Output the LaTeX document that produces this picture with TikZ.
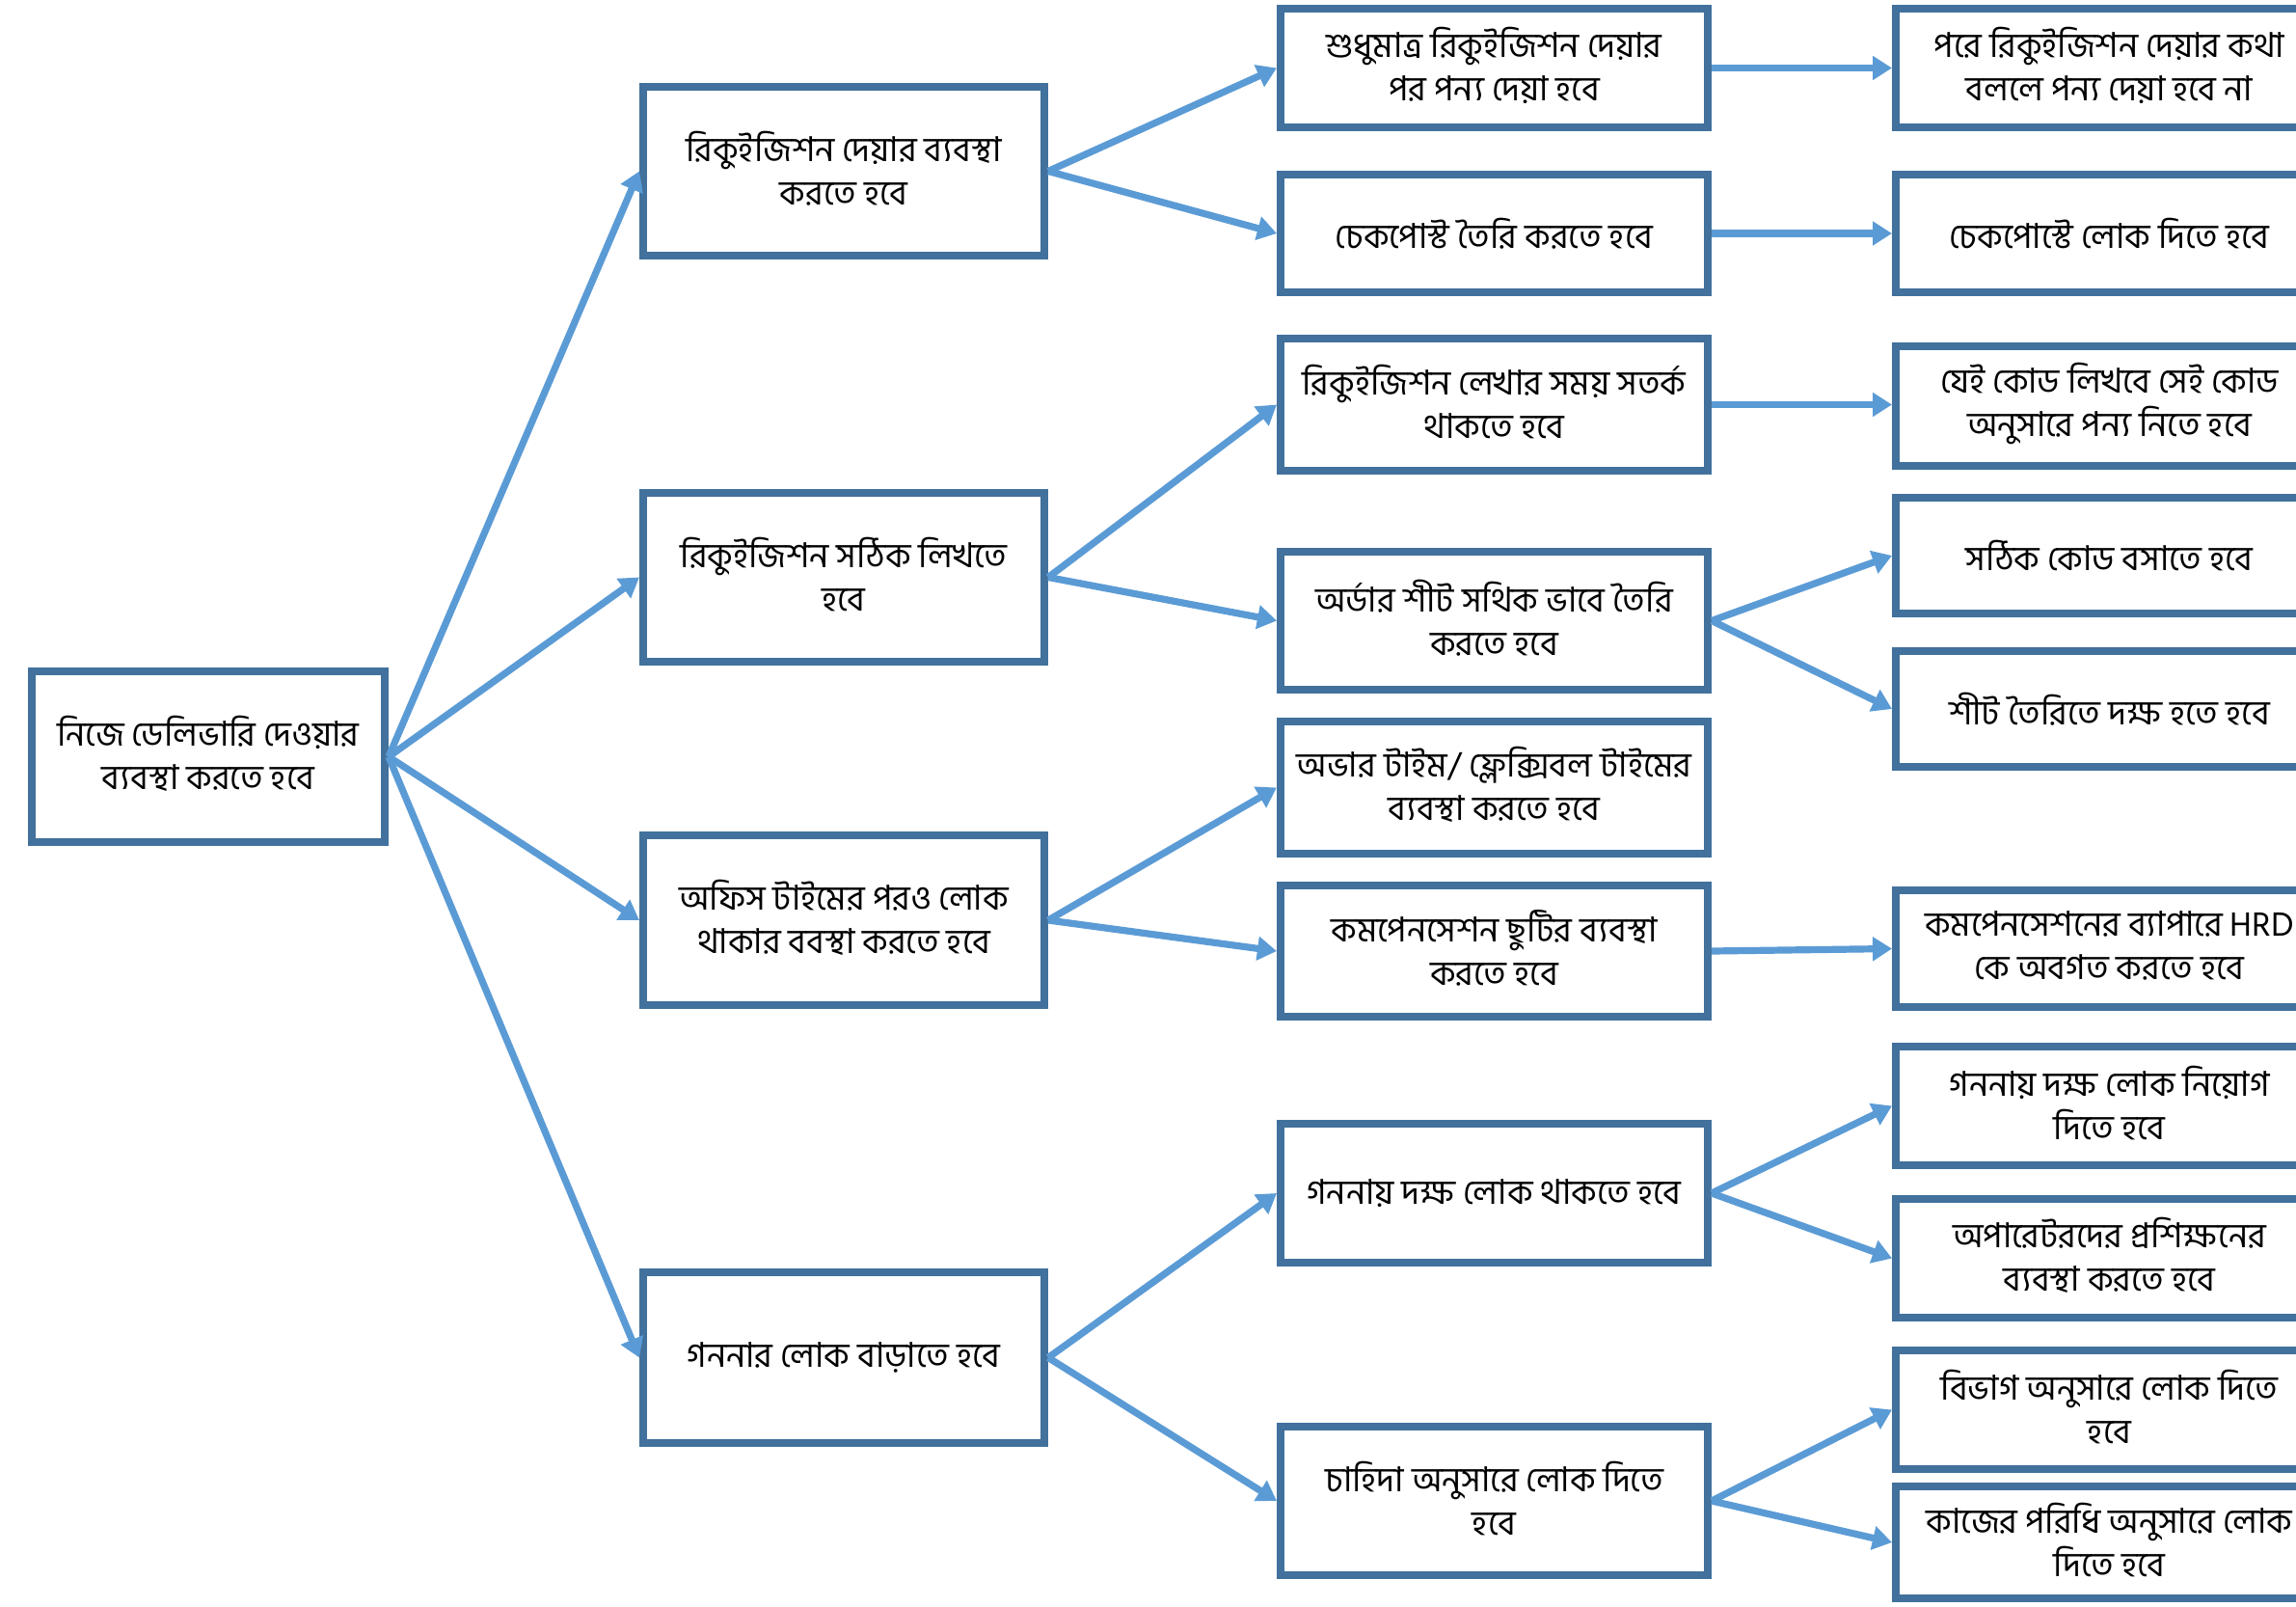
\documentclass[tikz,border=0pt]{standalone}
\usepackage{fontspec}
\newfontfamily\bn[Script=Bengali]{Hind Siliguri}
\usetikzlibrary{arrows.meta}
\definecolor{boxc}{HTML}{41719C}
\definecolor{arrc}{HTML}{5B9BD5}
\newcommand\tw[2]{\vbox{\halign{\hfil##\hfil\cr #1\cr #2\cr}\kern3pt}}
\tikzset{
  box/.style={draw=boxc, line width=4pt, fill=white, align=center, inner sep=0pt,
    font=\bn\fontsize{17.8}{22.5}\selectfont},
  lz/.style={box, minimum width=183pt},
  lone/.style={box, minimum width=208pt},
  ltwo/.style={box, minimum width=221.5pt},
  lthree/.style={box, minimum width=221.5pt},
  arr/.style={draw=arrc, line width=3.6pt, -{Triangle[length=10pt,width=12pt]}}
}
\begin{document}
\begin{tikzpicture}[x=1pt,y=1pt]
\useasboundingbox[fill=white] (0,0) rectangle (1190.5,-832.5);
\clip (0,0) rectangle (1190.5,-832.5);
% root
\node[lz, minimum height=88.5pt] (root) at (108,-392.25) {\tw{নিজে ডেলিভারি দেওয়ার}{ব্যবস্থা করতে হবে}};
% level 1
\node[lone, minimum height=87.5pt] (B1) at (437.5,-88.75) {\tw{রিকুইজিশন দেয়ার ব্যবস্থা}{করতে হবে}};
\node[lone, minimum height=87.5pt] (B2) at (437.5,-299.25) {\tw{রিকুইজিশন সঠিক লিখতে}{হবে}};
\node[lone, minimum height=88pt] (B3) at (437.5,-477) {\tw{অফিস টাইমের পরও লোক}{থাকার ববস্থা করতে হবে}};
\node[lone, minimum height=88.5pt] (B4) at (437.5,-703.75) {গননার লোক বাড়াতে হবে};
% level 2
\node[ltwo, minimum height=61.5pt] (a) at (774.75,-35.25) {\tw{শুধুমাত্র রিকুইজিশন দেয়ার}{পর পন্য দেয়া হবে}};
\node[ltwo, minimum height=61pt] (b) at (774.75,-121) {চেকপোস্ট তৈরি করতে হবে};
\node[ltwo, minimum height=68.5pt] (c) at (774.75,-209.75) {\tw{রিকুইজিশন লেখার সময় সতর্ক}{থাকতে হবে}};
\node[ltwo, minimum height=71.5pt] (d) at (774.75,-321.75) {\tw{অর্ডার শীট সথিক ভাবে তৈরি}{করতে হবে}};
\node[ltwo, minimum height=68.5pt] (e) at (774.75,-408.25) {\tw{অভার টাইম/ ফ্লেক্সিবল টাইমের}{ব্যবস্থা করতে হবে}};
\node[ltwo, minimum height=68pt] (f) at (774.75,-493) {\tw{কমপেনসেশন ছুটির ব্যবস্থা}{করতে হবে}};
\node[ltwo, minimum height=72pt] (g) at (774.75,-618.5) {গননায় দক্ষ লোক থাকতে হবে};
\node[ltwo, minimum height=77pt] (h) at (774.75,-778) {\tw{চাহিদা অনুসারে লোক দিতে}{হবে}};
% level 3
\node[lthree, minimum height=61.5pt] (r1) at (1093.75,-35.25) {\tw{পরে রিকুইজিশন দেয়ার কথা}{বললে পন্য দেয়া হবে না}};
\node[lthree, minimum height=61pt] (r2) at (1093.75,-121) {চেকপোস্টে লোক দিতে হবে};
\node[lthree, minimum height=62pt] (r3) at (1093.75,-210.5) {\tw{যেই কোড লিখবে সেই কোড}{অনুসারে পন্য নিতে হবে}};
\node[lthree, minimum height=60pt] (r4) at (1093.75,-288) {সঠিক কোড বসাতে হবে};
\node[lthree, minimum height=60pt] (r5) at (1093.75,-367.5) {শীট তৈরিতে দক্ষ হতে হবে};
\node[lthree, minimum height=60.5pt] (r6) at (1093.75,-491.75) {\tw{কমপেনসেশনের ব্যাপারে HRD}{কে অবগত করতে হবে}};
\node[lthree, minimum height=61.5pt] (r7) at (1093.75,-573.25) {\tw{গননায় দক্ষ লোক নিয়োগ}{দিতে হবে}};
\node[lthree, minimum height=61.5pt] (r8) at (1093.75,-652.25) {\tw{অপারেটরদের প্রশিক্ষনের}{ব্যবস্থা করতে হবে}};
\node[lthree, minimum height=61.5pt] (r9) at (1093.75,-730.75) {\tw{বিভাগ অনুসারে লোক দিতে}{হবে}};
\node[lthree, minimum height=58pt] (r10) at (1093.75,-799.5) {\tw{কাজের পরিধি অনুসারে লোক}{দিতে হবে}};
% connectors
\draw[arr] (root.east) -- (B1.west);
\draw[arr] (root.east) -- (B2.west);
\draw[arr] (root.east) -- (B3.west);
\draw[arr] (root.east) -- (B4.west);
\draw[arr] (B1.east) -- (a.west);
\draw[arr] (B1.east) -- (b.west);
\draw[arr] (B2.east) -- (c.west);
\draw[arr] (B2.east) -- (d.west);
\draw[arr] (B3.east) -- (e.west);
\draw[arr] (B3.east) -- (f.west);
\draw[arr] (B4.east) -- (g.west);
\draw[arr] (B4.east) -- (h.west);
\draw[arr] (a.east) -- (r1.west);
\draw[arr] (b.east) -- (r2.west);
\draw[arr] (c.east) -- (c.east -| r3.west);
\draw[arr] (d.east) -- (r4.west);
\draw[arr] (d.east) -- (r5.west);
\draw[arr] (f.east) -- (r6.west);
\draw[arr] (g.east) -- (r7.west);
\draw[arr] (g.east) -- (r8.west);
\draw[arr] (h.east) -- (r9.west);
\draw[arr] (h.east) -- (r10.west);
\end{tikzpicture}
\end{document}
